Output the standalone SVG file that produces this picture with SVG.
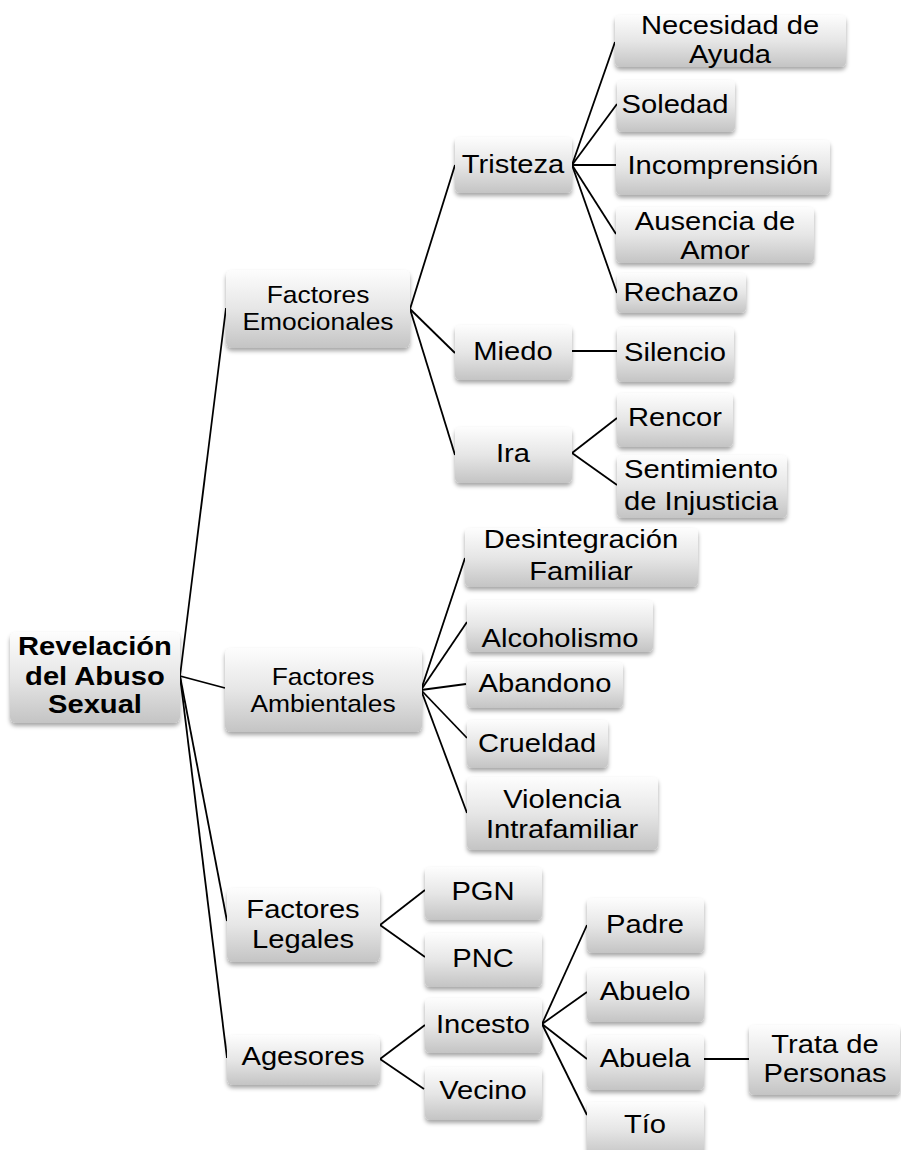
<svg xmlns="http://www.w3.org/2000/svg" width="901" height="1150" viewBox="0 0 901 1150">
<defs>
<linearGradient id="g" x1="0" y1="0" x2="0" y2="1">
<stop offset="0" stop-color="#fdfdfd"/>
<stop offset="0.5" stop-color="#e6e6e6"/>
<stop offset="1" stop-color="#c4c4c4"/>
</linearGradient>
<filter id="sh" x="-10%" y="-20%" width="120%" height="150%">
<feDropShadow dx="0" dy="3" stdDeviation="2" flood-color="#000" flood-opacity="0.35"/>
</filter>
</defs>
<style>
rect.b{fill:url(#g);filter:url(#sh)}
text{font-family:"Liberation Sans",Arial,sans-serif;font-size:26.5px;fill:#000;text-anchor:middle}
text.s{font-size:24px}
text.r{font-weight:bold}
#connectors line{stroke:#000;stroke-width:1.8;fill:none}
</style>
<rect width="901" height="1150" fill="#fff"/>
<g id="connectors">
<line x1="180" y1="676" x2="226" y2="308"/>
<line x1="180" y1="676" x2="225" y2="688"/>
<line x1="180" y1="676" x2="227" y2="921"/>
<line x1="180" y1="676" x2="227" y2="1058"/>
<line x1="410" y1="309" x2="455" y2="165"/>
<line x1="410" y1="309" x2="455" y2="353"/>
<line x1="410" y1="309" x2="455" y2="455"/>
<line x1="572" y1="165" x2="615" y2="42"/>
<line x1="572" y1="165" x2="617" y2="104"/>
<line x1="572" y1="165" x2="616" y2="165"/>
<line x1="572" y1="165" x2="616" y2="234"/>
<line x1="572" y1="165" x2="617" y2="293"/>
<line x1="572" y1="351" x2="617" y2="351"/>
<line x1="572" y1="453" x2="617" y2="418"/>
<line x1="572" y1="453" x2="617" y2="485"/>
<line x1="421" y1="690" x2="465" y2="558"/>
<line x1="421" y1="690" x2="467" y2="622"/>
<line x1="421" y1="690" x2="466" y2="684"/>
<line x1="421" y1="690" x2="467" y2="738"/>
<line x1="421" y1="690" x2="467" y2="813"/>
<line x1="380" y1="925" x2="425" y2="890"/>
<line x1="380" y1="925" x2="425" y2="957"/>
<line x1="380" y1="1059" x2="425" y2="1025"/>
<line x1="380" y1="1059" x2="424" y2="1089"/>
<line x1="542" y1="1024" x2="587" y2="925"/>
<line x1="542" y1="1024" x2="587" y2="992"/>
<line x1="542" y1="1024" x2="587" y2="1059"/>
<line x1="542" y1="1024" x2="587" y2="1115"/>
<line x1="704" y1="1059" x2="749" y2="1059"/>
</g>
<g id="root"><rect class="b" x="10" y="632" width="170" height="91" rx="6"/>
<text class="r" transform="translate(95,0) scale(1.1,1)"><tspan x="0" y="655">Revelación</tspan><tspan x="0" y="685">del Abuso</tspan><tspan x="0" y="713">Sexual</tspan></text></g>
<g id="emocionales"><rect class="b" x="226" y="270" width="184" height="78" rx="6"/>
<text class="s" transform="translate(318,0) scale(1.1,1)"><tspan x="0" y="303">Factores</tspan><tspan x="0" y="330">Emocionales</tspan></text></g>
<g id="tristeza"><rect class="b" x="455" y="137" width="117" height="56" rx="5"/>
<text transform="translate(513,173) scale(1.1,1)">Tristeza</text></g>
<g id="necesidad"><rect class="b" x="615" y="15" width="231" height="52" rx="5"/>
<text transform="translate(730,0) scale(1.1,1)"><tspan x="0" y="34">Necesidad de</tspan><tspan x="0" y="63">Ayuda</tspan></text></g>
<g id="soledad"><rect class="b" x="617" y="80" width="118" height="52" rx="5"/>
<text transform="translate(675,113) scale(1.1,1)">Soledad</text></g>
<g id="incomprension"><rect class="b" x="616" y="140" width="214" height="55" rx="5"/>
<text transform="translate(723,174) scale(1.1,1)">Incomprensión</text></g>
<g id="ausencia"><rect class="b" x="616" y="207" width="198" height="56" rx="5"/>
<text transform="translate(715,0) scale(1.1,1)"><tspan x="0" y="230">Ausencia de</tspan><tspan x="0" y="259">Amor</tspan></text></g>
<g id="rechazo"><rect class="b" x="617" y="273" width="129" height="40" rx="5"/>
<text transform="translate(681,301) scale(1.1,1)">Rechazo</text></g>
<g id="miedo"><rect class="b" x="455" y="325" width="117" height="55" rx="5"/>
<text transform="translate(513,360) scale(1.1,1)">Miedo</text></g>
<g id="silencio"><rect class="b" x="617" y="327" width="117" height="55" rx="5"/>
<text transform="translate(675,361) scale(1.1,1)">Silencio</text></g>
<g id="ira"><rect class="b" x="455" y="427" width="117" height="56" rx="5"/>
<text transform="translate(513,462) scale(1.1,1)">Ira</text></g>
<g id="rencor"><rect class="b" x="617" y="393" width="116" height="54" rx="5"/>
<text transform="translate(675,426) scale(1.1,1)">Rencor</text></g>
<g id="sentimiento"><rect class="b" x="617" y="455" width="170" height="63" rx="5"/>
<text transform="translate(701,0) scale(1.1,1)"><tspan x="0" y="478">Sentimiento</tspan><tspan x="0" y="510">de Injusticia</tspan></text></g>
<g id="ambientales"><rect class="b" x="225" y="648" width="197" height="84" rx="6"/>
<text class="s" transform="translate(323,0) scale(1.1,1)"><tspan x="0" y="685">Factores</tspan><tspan x="0" y="712">Ambientales</tspan></text></g>
<g id="desintegracion"><rect class="b" x="465" y="528" width="233" height="59" rx="5"/>
<text transform="translate(581,0) scale(1.1,1)"><tspan x="0" y="548">Desintegración</tspan><tspan x="0" y="580">Familiar</tspan></text></g>
<g id="alcoholismo"><rect class="b" x="467" y="600" width="186" height="52" rx="5"/>
<text transform="translate(560,647) scale(1.1,1)">Alcoholismo</text></g>
<g id="abandono"><rect class="b" x="467" y="662" width="156" height="46" rx="5"/>
<text transform="translate(545,692) scale(1.1,1)">Abandono</text></g>
<g id="crueldad"><rect class="b" x="467" y="720" width="141" height="48" rx="5"/>
<text transform="translate(537,752) scale(1.1,1)">Crueldad</text></g>
<g id="violencia"><rect class="b" x="467" y="777" width="191" height="73" rx="5"/>
<text transform="translate(562,0) scale(1.1,1)"><tspan x="0" y="808">Violencia</tspan><tspan x="0" y="838">Intrafamiliar</tspan></text></g>
<g id="legales"><rect class="b" x="227" y="888" width="153" height="74" rx="6"/>
<text transform="translate(303,0) scale(1.1,1)"><tspan x="0" y="918">Factores</tspan><tspan x="0" y="948">Legales</tspan></text></g>
<g id="pgn"><rect class="b" x="425" y="867" width="117" height="53" rx="5"/>
<text transform="translate(483,900) scale(1.1,1)">PGN</text></g>
<g id="pnc"><rect class="b" x="425" y="933" width="117" height="54" rx="5"/>
<text transform="translate(483,967) scale(1.1,1)">PNC</text></g>
<g id="agesores"><rect class="b" x="227" y="1035" width="153" height="50" rx="6"/>
<text transform="translate(303,1065) scale(1.1,1)">Agesores</text></g>
<g id="incesto"><rect class="b" x="425" y="998" width="117" height="55" rx="5"/>
<text transform="translate(483,1033) scale(1.1,1)">Incesto</text></g>
<g id="vecino"><rect class="b" x="425" y="1067" width="117" height="53" rx="5"/>
<text transform="translate(483,1099) scale(1.1,1)">Vecino</text></g>
<g id="padre"><rect class="b" x="587" y="898" width="117" height="55" rx="5"/>
<text transform="translate(645,933) scale(1.1,1)">Padre</text></g>
<g id="abuelo"><rect class="b" x="587" y="968" width="117" height="54" rx="5"/>
<text transform="translate(645,1000) scale(1.1,1)">Abuelo</text></g>
<g id="abuela"><rect class="b" x="587" y="1035" width="117" height="55" rx="5"/>
<text transform="translate(645,1067) scale(1.1,1)">Abuela</text></g>
<g id="tio"><rect class="b" x="587" y="1102" width="117" height="55" rx="5"/>
<text transform="translate(645,1133) scale(1.1,1)">Tío</text></g>
<g id="trata"><rect class="b" x="749" y="1025" width="151" height="70" rx="5"/>
<text transform="translate(825,0) scale(1.1,1)"><tspan x="0" y="1053">Trata de</tspan><tspan x="0" y="1082">Personas</tspan></text></g>
</svg>
